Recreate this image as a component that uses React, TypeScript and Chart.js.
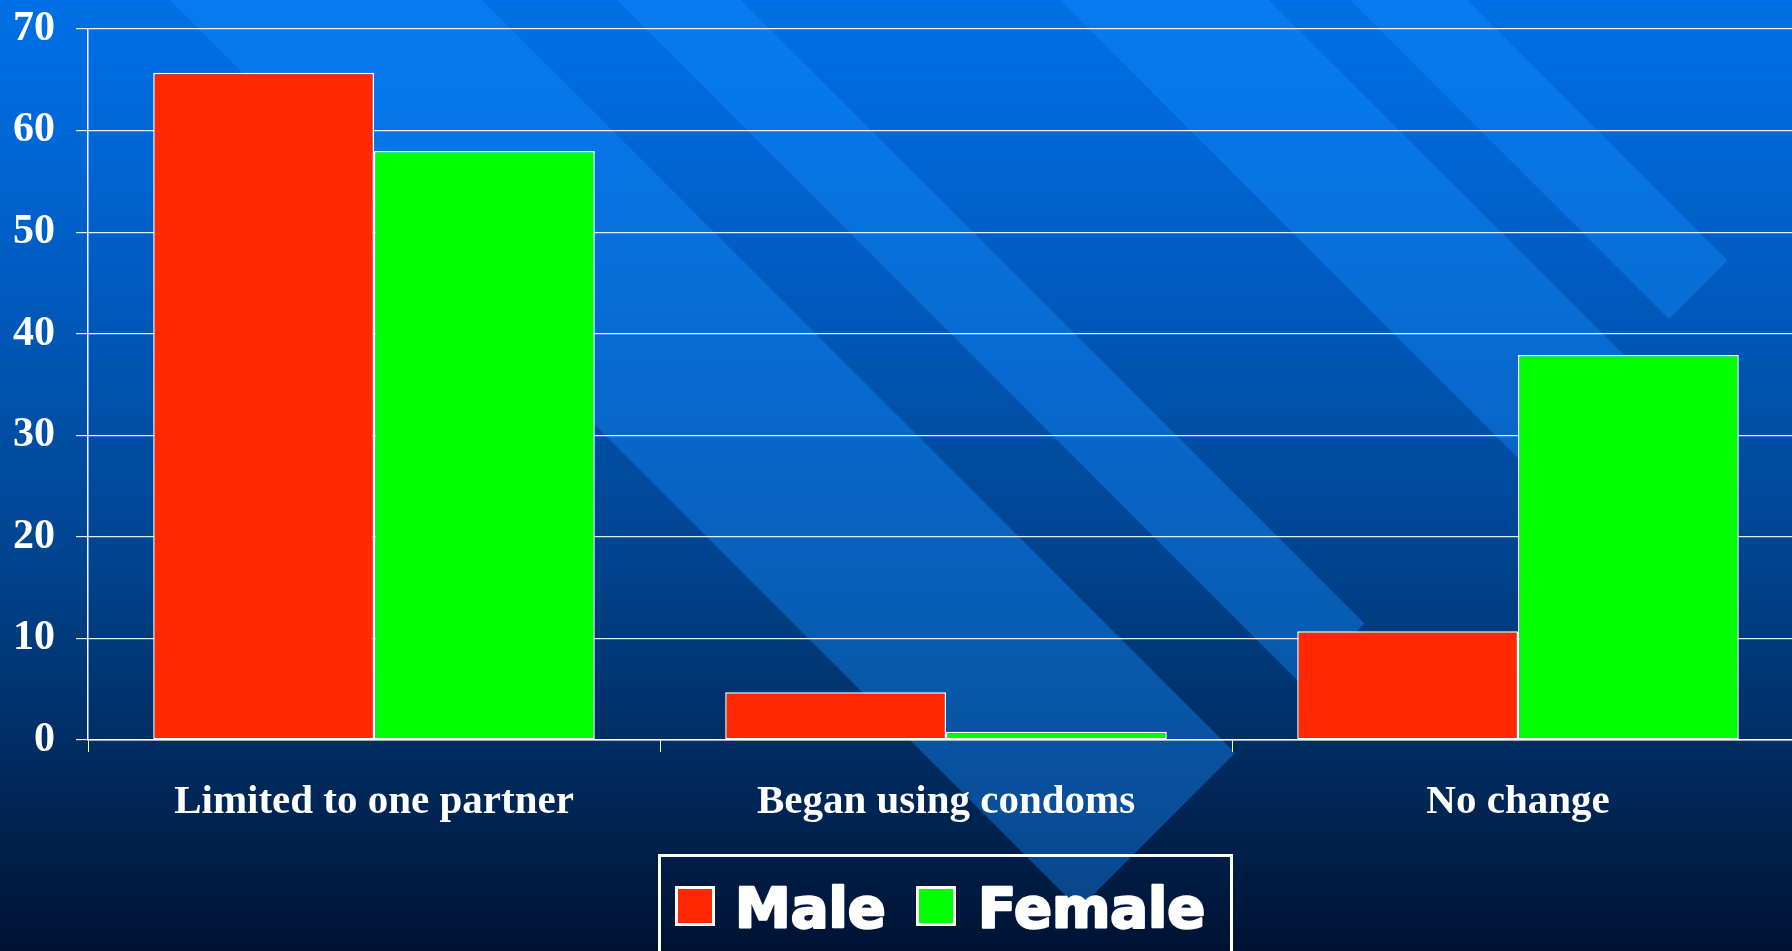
import React, { useEffect, useRef } from "react";
import { Chart, registerables } from "chart.js";

Chart.register(...registerables);

const categories = ["Limited to one partner", "Began using condoms", "No change"];
const maleValues = [65.7, 4.7, 10.7];
const femaleValues = [58.0, 0.8, 37.9];
const seriesNames = ["Male", "Female"];
const seriesColors = ["#FF2800", "#00FF00"];
const yMin = 0;
const yMax = 70;
const yStep = 10;

const W = 1804;
const H = 951;

const backgroundPlugin = {
  id: "slideBackground",
  beforeDraw(chart: any) {
    const ctx = chart.ctx as CanvasRenderingContext2D;
    ctx.save();
    const g = ctx.createLinearGradient(0, 0, 0, H);
    g.addColorStop(0, "rgb(0,112,230)");
    g.addColorStop(0.16, "rgb(0,102,214)");
    g.addColorStop(0.59, "rgb(0,68,143)");
    g.addColorStop(0.78, "rgb(0,46,100)");
    g.addColorStop(1, "rgb(0,18,50)");
    ctx.fillStyle = g;
    ctx.fillRect(0, 0, W, H);
    const bands: number[][] = [
      [170, 482],
      [617, 741],
      [1060, 1269],
      [1350, 1467],
    ];
    const capSum = 1988;
    ctx.fillStyle = "rgba(20,140,255,0.4)";
    bands.forEach(([c1, c2]) => {
      ctx.beginPath();
      ctx.moveTo(c1, 0);
      ctx.lineTo(c2, 0);
      ctx.lineTo((capSum + c2) / 2, (capSum - c2) / 2);
      ctx.lineTo((capSum + c1) / 2, (capSum - c1) / 2);
      ctx.closePath();
      ctx.fill();
    });
    ctx.restore();
  },
};

const legendPlugin = {
  id: "boxLegend",
  afterDraw(chart: any) {
    const ctx = chart.ctx as CanvasRenderingContext2D;
    ctx.save();
    ctx.strokeStyle = "#ffffff";
    ctx.lineWidth = 3;
    ctx.strokeRect(659.5, 855.5, 572, 130);
    const items = [
      { sx: 675, tx: 735 },
      { sx: 916, tx: 978 },
    ];
    chart.data.datasets.forEach((ds: any, i: number) => {
      const it = items[i];
      ctx.fillStyle = ds.backgroundColor;
      ctx.fillRect(it.sx, 886, 40, 40);
      ctx.strokeStyle = "#ffffff";
      ctx.lineWidth = 3;
      ctx.strokeRect(it.sx + 1.5, 887.5, 37, 37);
      ctx.fillStyle = "#ffffff";
      ctx.strokeStyle = "#ffffff";
      ctx.lineWidth = 2.5;
      ctx.lineJoin = "round";
      ctx.font = "bold 56px 'DejaVu Sans', sans-serif";
      ctx.textBaseline = "alphabetic";
      ctx.textAlign = "left";
      ctx.fillText(ds.label, it.tx, 927);
      ctx.strokeText(ds.label, it.tx, 927);
    });
    ctx.restore();
  },
};

export default function App() {
  const ref = useRef<HTMLCanvasElement | null>(null);
  useEffect(() => {
    if (!ref.current) return;
    const chart = new Chart(ref.current, {
      type: "bar",
      data: {
        labels: categories,
        datasets: [
          {
            label: seriesNames[0],
            data: maleValues,
            backgroundColor: seriesColors[0],
            borderColor: "#ffffff",
            borderWidth: 1.5,
            borderSkipped: false,
            categoryPercentage: 0.772,
            barPercentage: 1.0,
          },
          {
            label: seriesNames[1],
            data: femaleValues,
            backgroundColor: seriesColors[1],
            borderColor: "#ffffff",
            borderWidth: 1.5,
            borderSkipped: false,
            categoryPercentage: 0.772,
            barPercentage: 1.0,
          },
        ],
      },
      options: {
        responsive: false,
        animation: false,
        maintainAspectRatio: false,
        layout: { padding: { top: 29, left: 0, right: 0, bottom: 0 } },
        plugins: {
          legend: { display: false },
          tooltip: { enabled: false },
          title: { display: false },
        },
        scales: {
          x: {
            type: "category",
            offset: true,
            grid: {
              display: true,
              drawOnChartArea: false,
              drawTicks: true,
              tickLength: 12,
              color: "#ffffff",
              offset: true,
            },
            border: { display: true, color: "#ffffff", width: 1.5 },
            ticks: {
              color: "#ffffff",
              padding: 26,
              maxRotation: 0,
              minRotation: 0,
              autoSkip: false,
              font: { family: "'Liberation Serif', 'Times New Roman', serif", weight: "bold", size: 41 },
            },
            afterFit(scale: any) {
              scale.height = 211;
              scale.paddingLeft = 0;
              scale.paddingRight = 0;
            },
          },
          y: {
            min: yMin,
            max: yMax,
            grid: {
              color: "rgba(255,255,255,0.9)",
              lineWidth: 1.2,
              tickLength: 12,
              drawTicks: true,
            },
            border: { display: true, color: "#ffffff", width: 1.5 },
            ticks: {
              stepSize: yStep,
              color: "#ffffff",
              padding: 21,
              font: { family: "'Liberation Serif', 'Times New Roman', serif", weight: "bold", size: 42 },
            },
            afterFit(scale: any) {
              scale.width = 88;
              scale.paddingTop = 0;
              scale.paddingBottom = 0;
            },
          },
        },
      },
      plugins: [backgroundPlugin, legendPlugin],
    } as any);
    return () => chart.destroy();
  }, []);
  return (
    <div
      style={{
        position: "fixed",
        left: 0,
        top: 0,
        width: 1792,
        height: 951,
        overflow: "hidden",
        background: "#001232",
      }}
    >
      <canvas ref={ref} width={W} height={H} style={{ width: W, height: H, display: "block" }} />
    </div>
  );
}
